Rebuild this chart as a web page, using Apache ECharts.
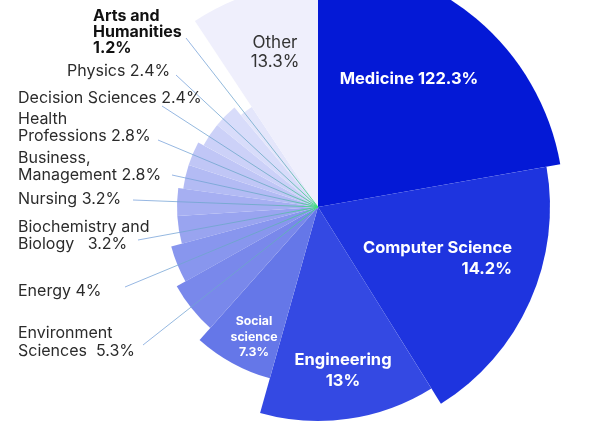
<!DOCTYPE html>
<html>
<head>
<meta charset="utf-8">
<script src="https://cdn.jsdelivr.net/npm/echarts@6/dist/echarts.min.js"></script>
<style>
html,body{margin:0;padding:0;background:#fff;}
#chart{width:596px;height:428px;}
</style>
</head>
<body>
<div id="chart"></div>
<script>
// ---- data ----
const categories = ['Medicine','Computer Science','Engineering','Social science','Environment Sciences','Energy','Biochemistry and Biology','Nursing','Business, Management','Health Professions','Decision Sciences','Physics','Arts and Humanities','Other'];
const shares = [122.3, 14.2, 13, 7.3, 5.3, 4, 3.2, 3.2, 2.8, 2.8, 2.4, 2.4, 1.2, 13.3];
// angular sweep of each slice (degrees) and its reach (radius units), as drawn
const sweeps = [80, 68, 47.7, 26, 19, 14.2, 11.4, 11.4, 10.3, 10.3, 10.85, 10.85, 6.5, 33.5];
const reach  = [246, 232, 214, 178, 162, 152, 141, 141, 136, 136, 130, 130, 120, 223];
const labelTemplates = ['Medicine {v}%','Computer Science\n{v}%','Engineering\n{v}%','Social\nscience\n{v}%','Environment\nSciences  {v}%','Energy {v}%','Biochemistry and\nBiology   {v}%','Nursing {v}%','Business,\nManagement {v}%','Health\nProfessions {v}%','Decision Sciences {v}%','Physics {v}%','Arts and\nHumanities\n{v}%','Other\n{v}%'];

// ---- layout / style (separate from data) ----
const colors = ['#0419d6','#1e34df','#3449e3','#6577e8','#7988eb','#8896ee','#99a4f0','#a6aff2','#b3bbf4','#c0c6f6','#ccd1f8','#d8dcfa','#e4e6fb','#efeffc'];
const FONT = 'Inter, "Noto Sans", sans-serif';
const labelLayout = [
  {x:409, y:79, align:'center', fill:'#ffffff', size:16.5, weight:'bold', lh:20},
  {x:512, y:258.5, align:'right', fill:'#ffffff', size:16.5, weight:'bold', lh:21},
  {x:343, y:370.5, align:'center', fill:'#ffffff', size:16.5, weight:'bold', lh:21},
  {x:254, y:337, align:'center', fill:'#ffffff', size:12.3, weight:'bold', lh:15.5},
  {x:18, y:342, align:'left', fill:'#2b2b2b', size:16, weight:'normal', lh:18, line:[143,345]},
  {x:18, y:291, align:'left', fill:'#2b2b2b', size:16, weight:'normal', lh:17, line:[125,287]},
  {x:18, y:235.5, align:'left', fill:'#2b2b2b', size:16, weight:'normal', lh:17, line:[138,240]},
  {x:18, y:199, align:'left', fill:'#2b2b2b', size:16, weight:'normal', lh:17, line:[133,200]},
  {x:18, y:166.5, align:'left', fill:'#2b2b2b', size:16, weight:'normal', lh:17, line:[172,175]},
  {x:18, y:127.5, align:'left', fill:'#2b2b2b', size:16, weight:'normal', lh:17, line:[158,140]},
  {x:18, y:98, align:'left', fill:'#2b2b2b', size:16, weight:'normal', lh:17, line:[162,106]},
  {x:67, y:71, align:'left', fill:'#2b2b2b', size:16, weight:'normal', lh:17, line:[176,75]},
  {x:93, y:32, align:'left', fill:'#111111', size:16, weight:'bold', lh:16, line:[186,38]},
  {x:275, y:52.5, align:'center', fill:'#333333', size:17, weight:'normal', lh:19}
];

// build slice table from the arrays
const sliceData = [];
let acc = 0;
for (let i = 0; i < categories.length; i++) {
  sliceData.push([acc, acc + sweeps[i], reach[i], i]);
  acc += sweeps[i];
}

const chart = echarts.init(document.getElementById('chart'), null, {renderer:'canvas'});
chart.setOption({
  backgroundColor: '#ffffff',
  animation: false,
  polar: { center: [318, 207], radius: 246 },
  angleAxis: { type:'value', min:0, max:360, startAngle:90, clockwise:true, show:false },
  radiusAxis: { type:'value', min:0, max:246, show:false },
  series: [{
    type: 'custom',
    coordinateSystem: 'polar',
    dimensions: ['start','end','reach','idx'],
    encode: { angle: 0, radius: 2 },
    clip: false,
    data: sliceData,
    renderItem: function (params, api) {
      const a0 = api.value(0), a1 = api.value(1), r = api.value(2), i = api.value(3);
      const c = api.coord([0, a0]);
      const p0 = api.coord([r, a0]);
      const p1 = api.coord([r, a1]);
      const R = Math.hypot(p0[0]-c[0], p0[1]-c[1]);
      let sA = Math.atan2(p0[1]-c[1], p0[0]-c[0]);
      let eA = Math.atan2(p1[1]-c[1], p1[0]-c[0]);
      if (eA <= sA) eA += Math.PI * 2;
      const L = labelLayout[i];
      const children = [{
        type: 'sector', z2: 0,
        shape: { cx: c[0], cy: c[1], r0: 0, r: R, startAngle: sA, endAngle: eA, clockwise: true },
        style: { fill: colors[i] }
      }];
      if (L.line) {
        children.push({
          type: 'line', z2: 10,
          shape: { x1: L.line[0], y1: L.line[1], x2: c[0], y2: c[1] },
          style: {
            stroke: { type:'linear', x: L.line[0], y: L.line[1], x2: c[0], y2: c[1], global: true,
              colorStops: [{offset:0, color:'rgba(120,160,220,0.85)'},{offset:0.75,color:'rgba(100,170,190,0.85)'},{offset:1, color:'rgba(60,225,120,1)'}] },
            lineWidth: 0.9
          }
        });
      }
      children.push({
        type: 'text', z2: 20,
        style: {
          text: labelTemplates[i].replace('{v}', shares[i]),
          x: L.x, y: L.y, align: L.align, verticalAlign: 'middle',
          fill: L.fill, fontSize: L.size, fontWeight: L.weight, fontFamily: FONT, lineHeight: L.lh
        }
      });
      return { type: 'group', children: children };
    }
  }]
});
</script>
</body>
</html>
